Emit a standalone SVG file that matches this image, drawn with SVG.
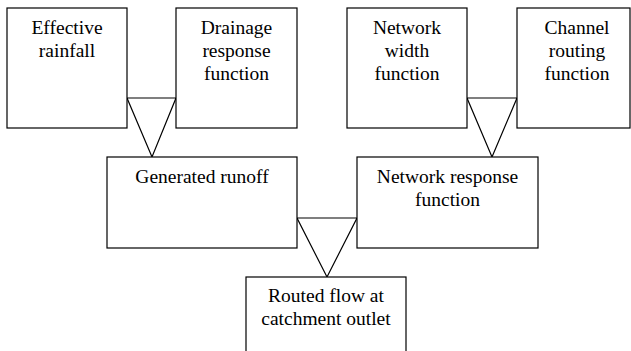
<svg xmlns="http://www.w3.org/2000/svg" width="631" height="351" viewBox="0 0 631 351">
<style>
.box{fill:#fff;stroke:#000;stroke-width:1.2}
.tri{fill:none;stroke:#000;stroke-width:1.2;stroke-linejoin:miter}
.t{font-size:19.5px;fill:#000;text-anchor:middle}
</style>
<rect width="631" height="351" fill="#fff"/>
<g id="connectors">
<polygon class="tri" points="127,98 176,98 152,157"/>
<polygon class="tri" points="467,98 517,98 492,157"/>
<polygon class="tri" points="297,218 357,218 327,277"/>
</g>
<g font-family="'Liberation Serif', 'DejaVu Serif', serif">
<g id="effective-rainfall">
<rect class="box" x="7" y="8" width="120" height="120"/>
<text class="t" x="67" y="34">Effective</text>
<text class="t" x="67" y="57">rainfall</text>
</g>
<g id="drainage-response">
<rect class="box" x="176" y="8" width="121" height="120"/>
<text class="t" x="236.5" y="34">Drainage</text>
<text class="t" x="236.5" y="57">response</text>
<text class="t" x="236.5" y="80">function</text>
</g>
<g id="network-width">
<rect class="box" x="347" y="8" width="120" height="120"/>
<text class="t" x="407" y="34">Network</text>
<text class="t" x="407" y="57">width</text>
<text class="t" x="407" y="80">function</text>
</g>
<g id="channel-routing">
<rect class="box" x="517" y="8" width="113" height="120"/>
<text class="t" x="577" y="34">Channel</text>
<text class="t" x="577" y="57">routing</text>
<text class="t" x="577" y="80">function</text>
</g>
<g id="generated-runoff">
<rect class="box" x="107" y="157" width="190" height="91"/>
<text class="t" x="202" y="183">Generated runoff</text>
</g>
<g id="network-response">
<rect class="box" x="357" y="157" width="181" height="91"/>
<text class="t" x="447.5" y="183">Network response</text>
<text class="t" x="447.5" y="206">function</text>
</g>
<g id="routed-flow">
<rect class="box" x="246" y="277" width="160" height="90"/>
<text class="t" x="326" y="302">Routed flow at</text>
<text class="t" x="326" y="325">catchment outlet</text>
</g>
</g>
</svg>
